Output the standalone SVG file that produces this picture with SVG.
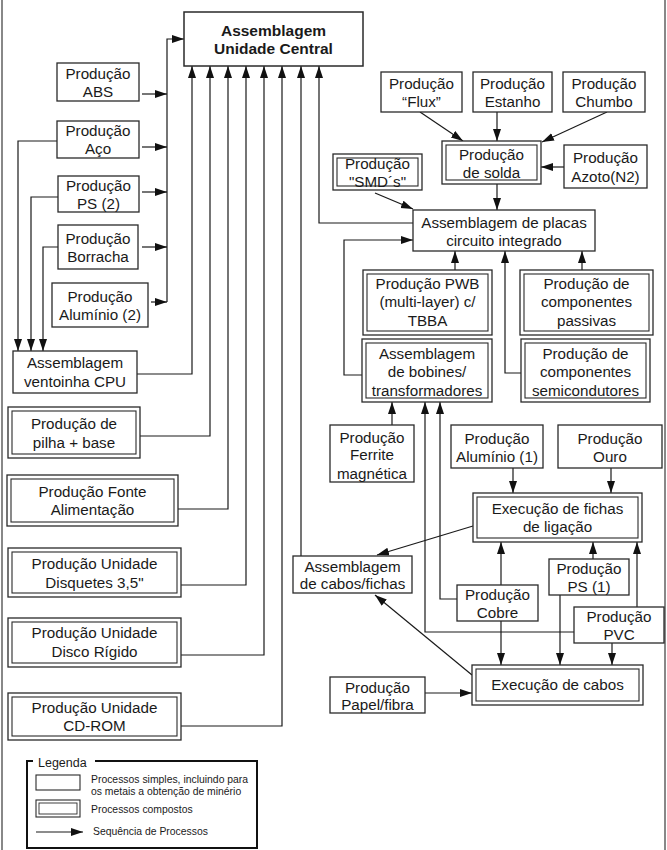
<svg xmlns="http://www.w3.org/2000/svg" width="667" height="850" viewBox="0 0 667 850">
<style>
.b{fill:#fff;stroke:#2a2a2a;stroke-width:1.3}
.i{fill:none;stroke:#2a2a2a;stroke-width:1.1}
.t{font-family:"Liberation Sans",Arial,sans-serif;font-size:15.2px;fill:#1a1a1a;text-anchor:middle}
.tb{font-family:"Liberation Sans",Arial,sans-serif;font-size:15.5px;font-weight:bold;fill:#1a1a1a;text-anchor:middle}
.c{fill:none;stroke:#1a1a1a;stroke-width:1.2}
.l{font-family:"Liberation Sans",Arial,sans-serif;font-size:10.4px;fill:#1a1a1a}
</style>
<defs>
<marker id="ah" markerUnits="userSpaceOnUse" markerWidth="13" markerHeight="9" refX="12" refY="4" orient="auto">
<path d="M0,0 L12,4 L0,8 z" fill="#111"/>
</marker>
</defs>
<rect width="667" height="850" fill="#fff"/>
<line x1="2" y1="0" x2="2" y2="850" stroke="#888" stroke-width="2"/>
<line x1="665" y1="0" x2="665" y2="850" stroke="#888" stroke-width="2"/>

<g id="connectors" class="c" marker-end="url(#ah)">
<path d="M167,302 V39 H184"/>
<path d="M142,94 H167"/>
<path d="M142,147 H167"/>
<path d="M142,192 H167"/>
<path d="M142,247 H167"/>
<path d="M151,302 H167"/>
<path d="M57,141 H18 V351"/>
<path d="M58,197 H31 V351"/>
<path d="M58,247 H43 V351"/>
<path d="M137,374 H192 V66"/>
<path d="M140,436 H210 V66"/>
<path d="M178,509 H228 V66"/>
<path d="M181,585 H246 V66"/>
<path d="M181,655 H264 V66"/>
<path d="M181,726 H282 V66"/>
<path d="M301,556 V66"/>
<path d="M413,223 H319 V66"/>
<path d="M420,112 L463,141"/>
<path d="M497,112 V141"/>
<path d="M607,112 L542,142"/>
<path d="M564,167 H541"/>
<path d="M497,184 V210"/>
<path d="M375,193 L413,209"/>
<path d="M362,375 H344 V240 H413"/>
<path d="M455,270 V251"/>
<path d="M582,270 V251"/>
<path d="M521,373 H505 V251"/>
<path d="M392,425 V402"/>
<path d="M574,632 H425 V402"/>
<path d="M457,599 H440 V402"/>
<path d="M513,468 V493"/>
<path d="M611,468 V493"/>
<path d="M501,585 V542"/>
<path d="M593,559 V542"/>
<path d="M637,607 V542"/>
<path d="M473,526 L377,555"/>
<path d="M501,621 V665"/>
<path d="M560,595 V665"/>
<path d="M612,643 V665"/>
<path d="M425,693 H472"/>
<path d="M472,675 L375,595"/>
</g>

<g id="n-main"><rect class="b" x="184" y="12" width="179" height="54" style="stroke-width:1.5"/><text class="tb" x="273.5" y="35.5">Assemblagem</text><text class="tb" x="273.5" y="54">Unidade Central</text></g>
<g id="n-abs"><rect class="b" x="57" y="63" width="82" height="38"/><text class="t" x="98" y="78.5">Produção</text><text class="t" x="98" y="96.5">ABS</text></g>
<g id="n-aco"><rect class="b" x="57" y="121" width="82" height="37"/><text class="t" x="98" y="135.5">Produção</text><text class="t" x="98" y="153.5">Aço</text></g>
<g id="n-ps2"><rect class="b" x="58" y="176" width="81" height="36"/><text class="t" x="98.5" y="190.5">Produção</text><text class="t" x="98.5" y="208.5">PS (2)</text></g>
<g id="n-borracha"><rect class="b" x="58" y="225" width="80" height="44"/><text class="t" x="98" y="243.5">Produção</text><text class="t" x="98" y="261.5">Borracha</text></g>
<g id="n-aluminio2"><rect class="b" x="52" y="283" width="96" height="44"/><text class="t" x="100" y="301.5">Produção</text><text class="t" x="100" y="319.5">Alumínio (2)</text></g>
<g id="n-ventoinha"><rect class="b" x="13" y="351" width="124" height="42"/><text class="t" x="75" y="367.5">Assemblagem</text><text class="t" x="75" y="386.5">ventoinha CPU</text></g>
<g id="n-pilha"><rect class="b" x="8" y="407" width="132" height="51"/><rect class="i" x="12" y="411" width="124" height="43"/><text class="t" x="74" y="428.5">Produção de</text><text class="t" x="74" y="447.5">pilha + base</text></g>
<g id="n-fonte"><rect class="b" x="7" y="475" width="171" height="51"/><rect class="i" x="11" y="479" width="163" height="43"/><text class="t" x="92.5" y="496.5">Produção Fonte</text><text class="t" x="92.5" y="514.5">Alimentação</text></g>
<g id="n-disquetes"><rect class="b" x="8" y="548" width="173" height="49"/><rect class="i" x="12" y="552" width="165" height="41"/><text class="t" x="94.5" y="568.5">Produção Unidade</text><text class="t" x="94.5" y="587.5">Disquetes 3,5"</text></g>
<g id="n-disco"><rect class="b" x="8" y="618" width="173" height="49"/><rect class="i" x="12" y="622" width="165" height="41"/><text class="t" x="94.5" y="637.5">Produção Unidade</text><text class="t" x="94.5" y="656.5">Disco Rígido</text></g>
<g id="n-cdrom"><rect class="b" x="8" y="693" width="173" height="47"/><rect class="i" x="12" y="697" width="165" height="39"/><text class="t" x="94.5" y="712.5">Produção Unidade</text><text class="t" x="94.5" y="730.5">CD-ROM</text></g>

<g id="n-flux"><rect class="b" x="381" y="72" width="81" height="40"/><text class="t" x="421.5" y="88.5">Produção</text><text class="t" x="421.5" y="107">“Flux”</text></g>
<g id="n-estanho"><rect class="b" x="473" y="72" width="79" height="40"/><text class="t" x="512.5" y="88.5">Produção</text><text class="t" x="512.5" y="107">Estanho</text></g>
<g id="n-chumbo"><rect class="b" x="563" y="72" width="82" height="40"/><text class="t" x="604" y="88.5">Produção</text><text class="t" x="604" y="107">Chumbo</text></g>
<g id="n-solda"><rect class="b" x="442" y="141" width="99" height="43"/><rect class="i" x="446" y="145" width="91" height="35"/><text class="t" x="491.5" y="159.5">Produção</text><text class="t" x="491.5" y="177.5">de solda</text></g>
<g id="n-azoto"><rect class="b" x="564" y="145" width="83" height="43"/><text class="t" x="605.5" y="162.5">Produção</text><text class="t" x="605.5" y="181.5">Azoto(N2)</text></g>
<g id="n-smd"><rect class="b" x="333" y="154" width="89" height="36"/><rect class="i" x="337" y="158" width="81" height="28"/><text class="t" x="377.5" y="168.5">Produção</text><text class="t" x="377.5" y="187">"SMD´s"</text></g>
<g id="n-placas"><rect class="b" x="413" y="210" width="182" height="41"/><text class="t" x="504" y="227.5">Assemblagem de placas</text><text class="t" x="504" y="245.5">circuito integrado</text></g>
<g id="n-pwb"><rect class="b" x="363" y="270" width="129" height="65"/><rect class="i" x="367" y="274" width="121" height="57"/><text class="t" x="427.5" y="288.5">Produção PWB</text><text class="t" x="427.5" y="307">(multi-layer) c/</text><text class="t" x="427.5" y="325.5">TBBA</text></g>
<g id="n-passivas"><rect class="b" x="520" y="270" width="133" height="65"/><rect class="i" x="524" y="274" width="125" height="57"/><text class="t" x="586.5" y="288.5">Produção de</text><text class="t" x="586.5" y="307">componentes</text><text class="t" x="586.5" y="325.5">passivas</text></g>
<g id="n-bobines"><rect class="b" x="362" y="339" width="130" height="63"/><rect class="i" x="366" y="343" width="122" height="55"/><text class="t" x="427" y="358.5">Assemblagem</text><text class="t" x="427" y="377">de bobines/</text><text class="t" x="427" y="395.5">transformadores</text></g>
<g id="n-semicondutores"><rect class="b" x="521" y="339" width="129" height="63"/><rect class="i" x="525" y="343" width="121" height="55"/><text class="t" x="585.5" y="358.5">Produção de</text><text class="t" x="585.5" y="377">componentes</text><text class="t" x="585.5" y="395.5">semicondutores</text></g>
<g id="n-ferrite"><rect class="b" x="330" y="425" width="84" height="57"/><text class="t" x="372" y="442.5">Produção</text><text class="t" x="372" y="460">Ferrite</text><text class="t" x="372" y="478.5">magnética</text></g>
<g id="n-aluminio1"><rect class="b" x="451" y="425" width="92" height="43"/><text class="t" x="497" y="443.5">Produção</text><text class="t" x="497" y="462">Alumínio (1)</text></g>
<g id="n-ouro"><rect class="b" x="558" y="425" width="104" height="43"/><text class="t" x="610" y="443.5">Produção</text><text class="t" x="610" y="462">Ouro</text></g>
<g id="n-fichas"><rect class="b" x="473" y="493" width="169" height="49"/><rect class="i" x="477" y="497" width="161" height="41"/><text class="t" x="557.5" y="513.5">Execução de fichas</text><text class="t" x="557.5" y="531.5">de ligação</text></g>
<g id="n-cabosfichas"><rect class="b" x="293" y="556" width="119" height="37"/><text class="t" x="352.5" y="571.5">Assemblagem</text><text class="t" x="352.5" y="588.5">de cabos/fichas</text></g>
<g id="n-cobre"><rect class="b" x="457" y="585" width="81" height="36"/><text class="t" x="497.5" y="599.5">Produção</text><text class="t" x="497.5" y="617.5">Cobre</text></g>
<g id="n-ps1"><rect class="b" x="549" y="559" width="80" height="36"/><text class="t" x="589" y="573.5">Produção</text><text class="t" x="589" y="592">PS (1)</text></g>
<g id="n-pvc"><rect class="b" x="574" y="607" width="90" height="36"/><text class="t" x="619" y="621.5">Produção</text><text class="t" x="619" y="639.5">PVC</text></g>
<g id="n-cabos"><rect class="b" x="472" y="665" width="171" height="40"/><rect class="i" x="476" y="669" width="163" height="32"/><text class="t" x="557.5" y="689.5">Execução de cabos</text></g>
<g id="n-papel"><rect class="b" x="330" y="677" width="95" height="36"/><text class="t" x="377.5" y="692.5">Produção</text><text class="t" x="377.5" y="709.5">Papel/fibra</text></g>

<g id="legend">
<path d="M33,761 H27 V848 H257 V761 H95" fill="none" stroke="#111" stroke-width="2"/>
<text class="l" x="38" y="766.5" style="font-size:12.5px">Legenda</text>
<rect class="b" x="36" y="775" width="44" height="15" style="stroke-width:1.1"/>
<text class="l" x="91" y="782.5">Processos simples, incluindo para</text>
<text class="l" x="91" y="794.5">os metais a obtenção de minério</text>
<rect class="b" x="36" y="800" width="44" height="17" style="stroke-width:1.1"/>
<rect class="i" x="39" y="803" width="38" height="11" style="stroke-width:0.9"/>
<text class="l" x="91" y="813">Processos compostos</text>
<path class="c" d="M36,832 H83" marker-end="url(#ah)"/>
<text class="l" x="93" y="835">Sequência de Processos</text>
</g>
</svg>
